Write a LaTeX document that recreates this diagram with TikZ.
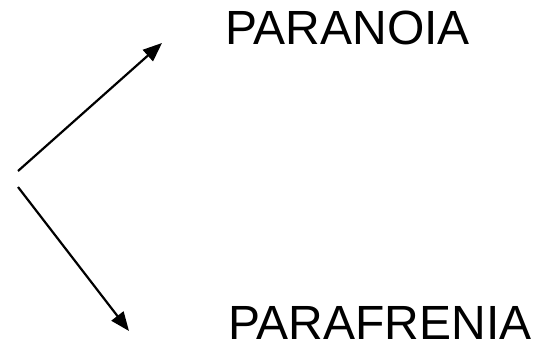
\documentclass[tikz,border=0pt]{standalone}
\usepackage{fontspec}
\setmainfont{Liberation Sans}
\usetikzlibrary{arrows.meta}

\begin{document}
\begin{tikzpicture}[x=1pt, y=-1pt]
  \useasboundingbox (0,0) rectangle (537,341);
  \coordinate (up) at (18,171);
  \coordinate (down) at (18,187);
  \coordinate (uptip) at (162,43);
  \coordinate (downtip) at (129,331);
  \node[anchor=base west, inner sep=0pt, font=\fontsize{48}{52}\selectfont] (paranoia) at (225,44) {PARANOIA};
  \node[anchor=base west, inner sep=0pt, font=\fontsize{48}{52}\selectfont] (parafrenia) at (228,339) {PARAFRENIA};
  \draw[-{Triangle[length=19pt, width=15pt]}, line width=2.2pt] (up) -- (uptip);
  \draw[-{Triangle[length=19pt, width=15pt]}, line width=2.2pt] (down) -- (downtip);
\end{tikzpicture}
\end{document}
